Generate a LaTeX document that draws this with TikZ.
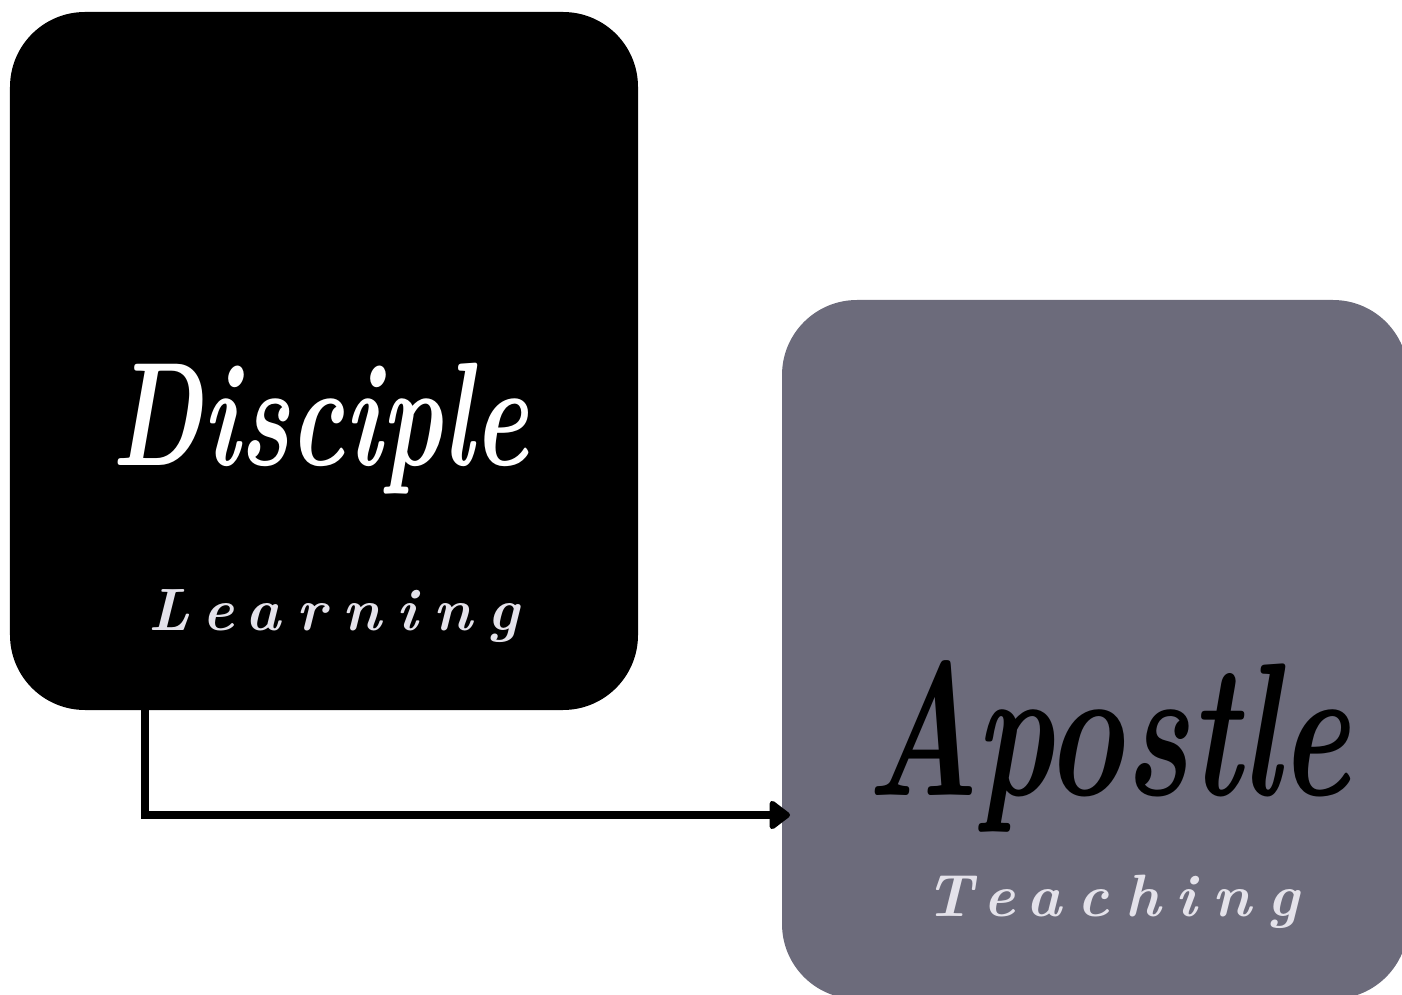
\documentclass[tikz,border=0pt]{standalone}
\usepackage{fontspec}
\usetikzlibrary{arrows.meta}

\newfontfamily\titlefont[FakeStretch=0.7]{Latin Modern Roman}
\newfontfamily\spacedfont[LetterSpace=26]{Latin Modern Roman}

\definecolor{slategray}{HTML}{6C6B7B}
\definecolor{palelilac}{HTML}{E4E2EA}

\tikzset{
	card/.style={rectangle, rounded corners=1.5cm, inner sep=0pt},
	title/.style={font=\titlefont\bfseries\itshape\fontsize{#1}{#1}\selectfont},
	subtitle/.style={font=\spacedfont\bfseries\itshape\fontsize{34}{34}\selectfont, text=palelilac},
}

\begin{document}
\begin{tikzpicture}
		\useasboundingbox (0,0) rectangle (28.04,19.88);
		\def\lw{4pt} % Width of the connector
		
		% The two cards
		\node[card, fill=black, minimum width=12.56cm, minimum height=13.96cm] (disciple) at (6.48,12.66) {};
		\node[card, fill=slategray, minimum width=12.52cm, minimum height=13.98cm] (apostle) at (21.9,6.89) {};
		
		% Texts on the cards
		\node[title=84, text=white] (disciplename) at (6.4,11.3) {Disciple};
		\node[subtitle] (learning) at (6.68,7.55) {Learning};
		\node[title=108, text=black] (apostlename) at (22.16,4.95) {Apostle};
		\node[subtitle] (teaching) at (22.24,1.85) {Teaching};
		
		% Connector from one card to the other
		\coordinate (start) at (2.9,5.68);
		\coordinate (tip) at (15.8,3.58);
		\draw[line width=\lw, -{Triangle[round, length=4.5mm, width=6.5mm]}] (start) -- (start |- tip) -- (tip);
	\end{tikzpicture}
\end{document}
